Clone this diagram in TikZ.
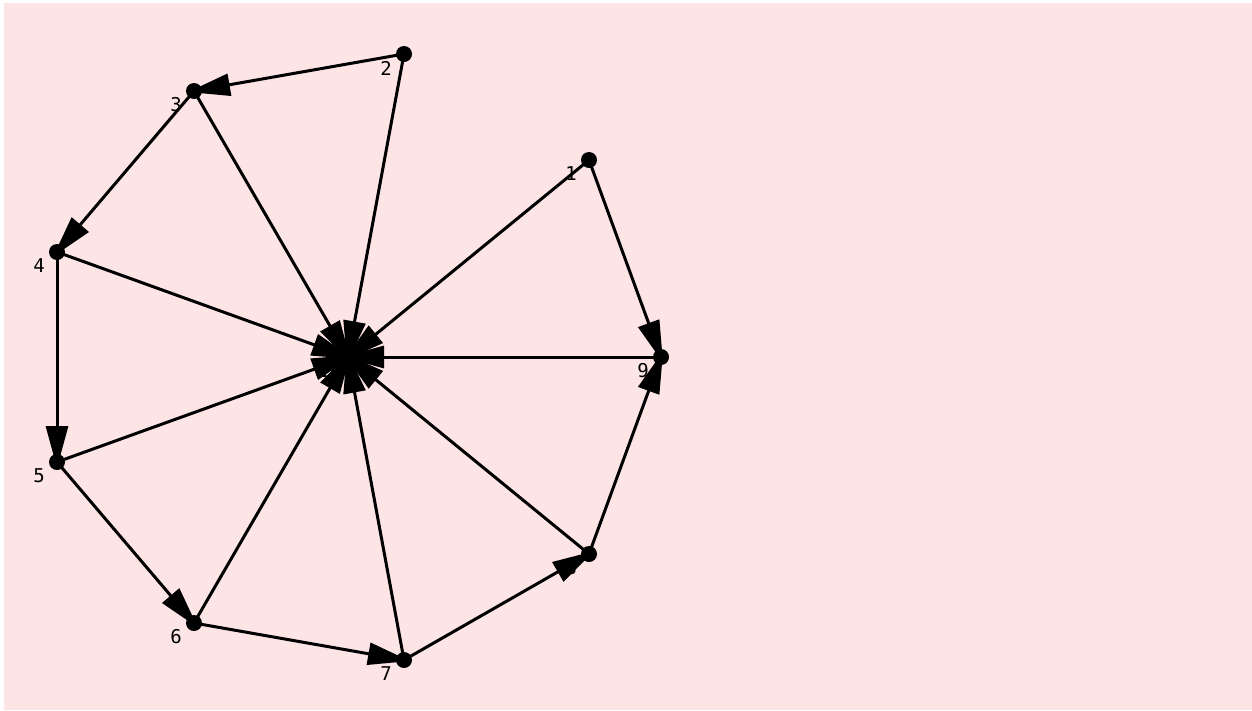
\documentclass[tikz,border=0pt]{standalone}
\usepackage{fontspec}
\setmonofont{DejaVu Sans Mono}
\usetikzlibrary{arrows.meta}
\definecolor{bgpink}{RGB}{253,229,229}
\pgfdeclarelayer{bg}
\pgfdeclarelayer{edges}
\pgfsetlayers{bg,edges,main}
\begin{document}
\begin{tikzpicture}[x=1pt,y=-1pt,
  dot/.style={circle,fill=black,inner sep=0pt,minimum size=16pt},
  edge/.style={line width=3pt,shorten >=-6pt,-{Triangle[length=42pt,width=22pt]}},
  lbl/.style={font=\ttfamily\fontsize{19}{19}\selectfont,inner sep=0pt}]
  \useasboundingbox (0,0) rectangle (1252,710);
  \begin{pgfonlayer}{bg}
    \fill[bgpink] (4,3) rectangle (1252,710);
  \end{pgfonlayer}
  % vertices, numbers below left and under the edges
  \foreach \name/\px/\py in {1/589/160,2/404/54,3/194/91,4/57/252,5/57/462,
                             6/194/623,7/404/660,8/589/554,9/661/357,10/348/357}{
    \begin{pgfonlayer}{bg}
      \node[lbl] (l\name) at (\px-18,\py+14) {\name};
    \end{pgfonlayer}
    \node[dot] (v\name) at (\px,\py) {};
  }
  \begin{pgfonlayer}{edges}
    % spokes into the hub
    \foreach \from in {1,...,9}
      \draw[edge] (v\from.center) -- (v10.center);
    % rim
    \foreach \from/\to in {1/9,2/3,3/4,4/5,5/6,6/7,7/8,8/9}
      \draw[edge] (v\from.center) -- (v\to.center);
  \end{pgfonlayer}
\end{tikzpicture}
\end{document}
